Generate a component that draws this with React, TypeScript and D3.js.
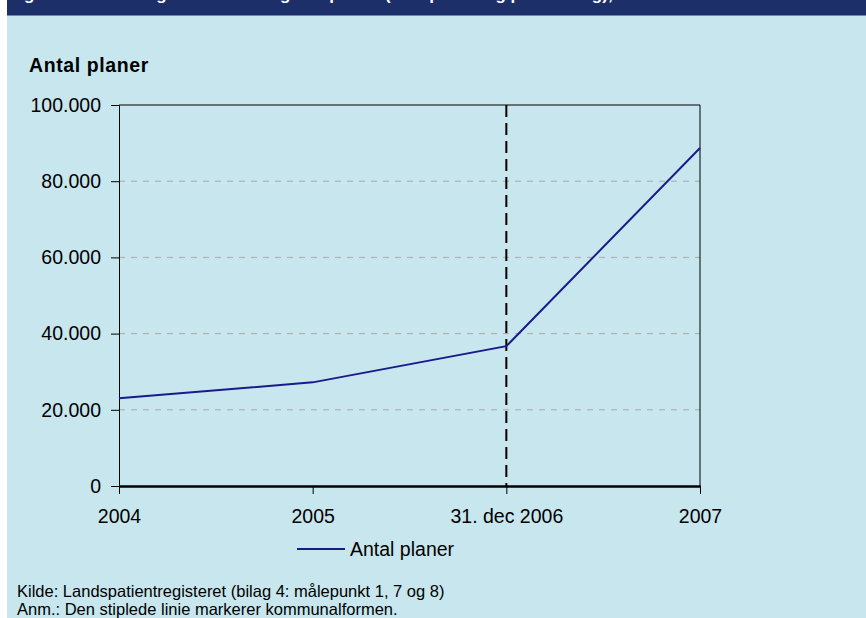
import React, { useEffect, useRef } from 'react';
import * as d3 from 'd3'

// data
const categories = ['2004', '2005', '31. dec 2006', '2007']
const antalPlaner = [23000, 27200, 36700, 88700]
const yTicks = [0, 20000, 40000, 60000, 80000, 100000]
const markerCategory = '31. dec 2006'
const seriesName = 'Antal planer'

const fmt = (v: number) => v === 0 ? '0' : d3.format(',')(v).replace(/,/g, '.')

const App: React.FC = () => {
  const svgRef = useRef() as React.MutableRefObject<SVGSVGElement>

  useEffect(() => {
    const W = 866, H = 618
    const plot = { left: 119, right: 700, top: 105, bottom: 486 }
    const font = 'Arial, "Liberation Sans", sans-serif'

    const root = d3.select(svgRef.current)
    root.html('')
    root.attr('width', W).attr('height', H).attr('viewBox', `0 0 ${W} ${H}`)

    // backgrounds
    root.append('rect').attr('width', W).attr('height', H).attr('fill', '#ffffff')
    root.append('rect').attr('x', 7).attr('y', 0).attr('width', W - 7).attr('height', H).attr('fill', '#c7e6ee')
    root.append('rect').attr('x', 7).attr('y', 0).attr('width', W - 7).attr('height', 15).attr('fill', '#1c2f69')
    root.append('rect').attr('x', 7).attr('y', 15).attr('width', W - 7).attr('height', 1).attr('fill', '#6b86b8')

    // title, cut off at the top edge as in the reference
    root.append('text')
      .attr('x', 9).attr('y', -0.5)
      .attr('font-family', font).attr('font-size', 17).attr('font-weight', 'bold')
      .attr('fill', '#ffffff')
      .text('Figur 4.1: Udvikling i antallet af digitale planer (lokalplaner og planforslag), 2004-2007')

    const x = d3.scalePoint<string>().domain(categories).range([plot.left, plot.right])
    const y = d3.scaleLinear().domain([0, 100000]).range([plot.bottom, plot.top])

    const g = root.append('g')

    // gridlines
    g.selectAll('line.grid')
      .data(yTicks.filter(t => t > 0 && t < 100000))
      .join('line')
      .attr('x1', plot.left).attr('x2', plot.right)
      .attr('y1', d => y(d)).attr('y2', d => y(d))
      .attr('stroke', '#a9a9a9').attr('stroke-width', 1)
      .attr('stroke-dasharray', '6,6')

    // frame top and right
    g.append('line').attr('x1', plot.left).attr('x2', plot.right)
      .attr('y1', y(100000)).attr('y2', y(100000)).attr('stroke', '#000').attr('stroke-width', 1)
    g.append('line').attr('x1', plot.right).attr('x2', plot.right)
      .attr('y1', plot.top).attr('y2', plot.bottom).attr('stroke', '#000').attr('stroke-width', 1)

    // y axis
    const yAxis = g.append('g')
      .attr('transform', `translate(${plot.left},0)`)
      .call(d3.axisLeft(y).tickValues(yTicks).tickSize(8).tickPadding(10).tickFormat(d => fmt(+d)))
    yAxis.select('.domain').attr('stroke', '#000')
    yAxis.selectAll('text').attr('font-family', font).attr('font-size', 19.5).attr('fill', '#000')

    // x axis
    const xAxis = g.append('g')
      .attr('transform', `translate(0,${plot.bottom})`)
      .call(d3.axisBottom(x).tickSize(8).tickPadding(15).tickSizeOuter(0))
    xAxis.select('.domain').attr('stroke', '#000').attr('stroke-width', 2.5)
    xAxis.selectAll('text').attr('font-family', font).attr('font-size', 19.5).attr('fill', '#000')

    // dashed marker line
    g.append('line')
      .attr('x1', x(markerCategory)!).attr('x2', x(markerCategory)!)
      .attr('y1', plot.top).attr('y2', plot.bottom)
      .attr('stroke', '#000').attr('stroke-width', 2)
      .attr('stroke-dasharray', '12,6')

    // series line
    const line = d3.line<number>()
      .x((_, i) => x(categories[i])!)
      .y(d => y(d))
    g.append('path')
      .datum(antalPlaner)
      .attr('fill', 'none')
      .attr('stroke', '#1a1a8a')
      .attr('stroke-width', 2)
      .attr('d', line)

    // y axis title
    root.append('text')
      .attr('x', 29).attr('y', 72)
      .attr('font-family', font).attr('font-size', 19.5).attr('font-weight', 'bold')
      .attr('letter-spacing', 0.6)
      .text(seriesName)

    // legend
    root.append('line').attr('x1', 297).attr('x2', 345).attr('y1', 549).attr('y2', 549)
      .attr('stroke', '#1a1a8a').attr('stroke-width', 2)
    root.append('text').attr('x', 350).attr('y', 556)
      .attr('font-family', font).attr('font-size', 19.5)
      .text(seriesName)

    // notes
    root.append('text').attr('x', 17).attr('y', 597)
      .attr('font-family', font).attr('font-size', 16.5)
      .text('Kilde: Landspatientregisteret (bilag 4: målepunkt 1, 7 og 8)')
    root.append('text').attr('x', 17).attr('y', 615)
      .attr('font-family', font).attr('font-size', 16.5)
      .text('Anm.: Den stiplede linie markerer kommunalformen.')
  }, [])

  return <svg ref={svgRef} style={{ position: 'absolute', left: 0, top: 0, display: 'block' }} />
}

export default App
